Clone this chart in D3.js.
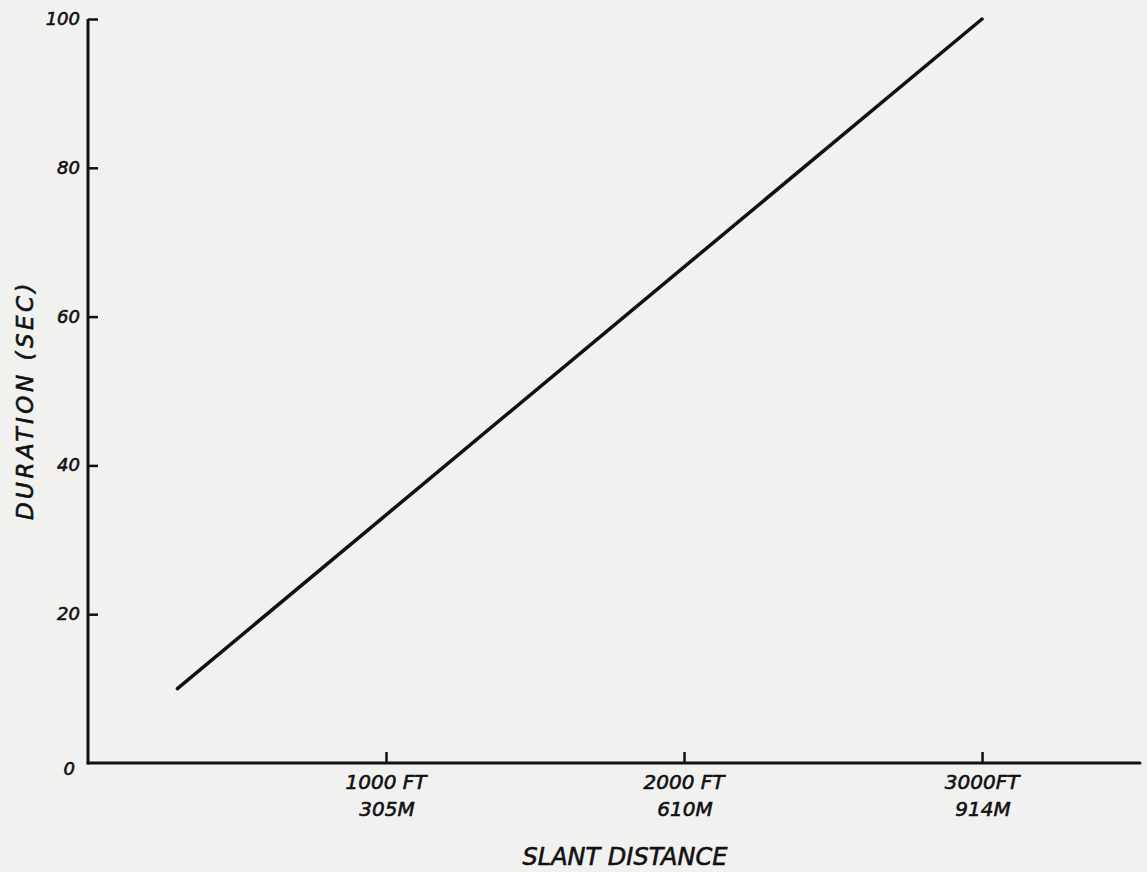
<!DOCTYPE html>
<html>
<head>
<meta charset="utf-8">
<script src="https://cdn.jsdelivr.net/npm/d3@7"></script>
<style>
  html, body { margin: 0; padding: 0; background: #f1f1f0; }
  svg { display: block; }
  text { font-family: "DejaVu Sans", sans-serif; font-style: italic; fill: #111; stroke: #111; stroke-width: 0.6px; }
</style>
</head>
<body>
<script>
// Data
const slantFt = [300, 3000];          // slant distance (ft)
const durationSec = [10, 100];        // duration (sec)
const xTickValues = [1000, 2000, 3000];
const xTickFt = ["1000 FT", "2000 FT", "3000FT"];
const xTickM = ["305M", "610M", "914M"];
const yTickValues = [0, 20, 40, 60, 80, 100];
const xTitle = "SLANT DISTANCE";
const yTitle = "DURATION (SEC)";

const W = 1147, H = 872;
const svg = d3.select("body").append("svg").attr("width", W).attr("height", H);

const x = d3.scaleLinear().domain([0, 3530]).range([88, 1140]);
const y = d3.scaleLinear().domain([0, 100]).range([763, 19]);

const g = svg.append("g");

// Axes lines
g.append("line").attr("x1", x(0)).attr("x2", x(0)).attr("y1", y(0) + 1.5).attr("y2", y(100))
  .attr("stroke", "#111").attr("stroke-width", 3);
g.append("line").attr("x1", x(0)).attr("x2", x.range()[1]).attr("y1", y(0)).attr("y2", y(0))
  .attr("stroke", "#111").attr("stroke-width", 3).attr("stroke-linecap", "round");

// Y ticks (inward)
const yAxis = d3.axisRight(y).tickValues(yTickValues.filter(d => d > 0)).tickSize(10).tickFormat("");
const yG = g.append("g").attr("transform", `translate(${x(0)},0)`).call(yAxis);
yG.select(".domain").remove();
yG.selectAll(".tick line").attr("stroke", "#111").attr("stroke-width", 2.5);

// Y tick labels
g.selectAll(".ylab").data(yTickValues).enter().append("text")
  .attr("class", "ylab")
  .attr("x", d => d === 0 ? x(0) - 13 : x(0) - 8)
  .attr("y", d => d === 0 ? y(d) + 12 : y(d) + 6)
  .attr("text-anchor", "end")
  .attr("font-size", 18)
  .text(d => d);

// X ticks (upward)
const xAxis = d3.axisTop(x).tickValues(xTickValues).tickSize(11).tickFormat("");
const xG = g.append("g").attr("transform", `translate(0,${y(0)})`).call(xAxis);
xG.select(".domain").remove();
xG.selectAll(".tick line").attr("stroke", "#111").attr("stroke-width", 2.5);

// X tick labels
g.selectAll(".xlab1").data(xTickValues).enter().append("text")
  .attr("x", d => x(d)).attr("y", y(0) + 26)
  .attr("text-anchor", "middle").attr("font-size", 20)
  .text((d, i) => xTickFt[i]);
g.selectAll(".xlab2").data(xTickValues).enter().append("text")
  .attr("x", d => x(d) + 1).attr("y", y(0) + 53)
  .attr("text-anchor", "middle").attr("font-size", 20)
  .text((d, i) => xTickM[i]);

// Titles
g.append("text").attr("x", 625).attr("y", 865).attr("text-anchor", "middle")
  .attr("font-size", 24).text(xTitle);
g.append("text").attr("transform", `translate(33,${400}) rotate(-90)`)
  .attr("text-anchor", "middle").attr("font-size", 23).attr("letter-spacing", 3.5).text(yTitle);

// Data line
const line = d3.line().x(d => x(d[0])).y(d => y(d[1]));
g.append("path").datum(slantFt.map((v, i) => [v, durationSec[i]]))
  .attr("d", line).attr("fill", "none").attr("stroke", "#111")
  .attr("stroke-width", 3.5).attr("stroke-linecap", "round");
</script>
</body>
</html>
